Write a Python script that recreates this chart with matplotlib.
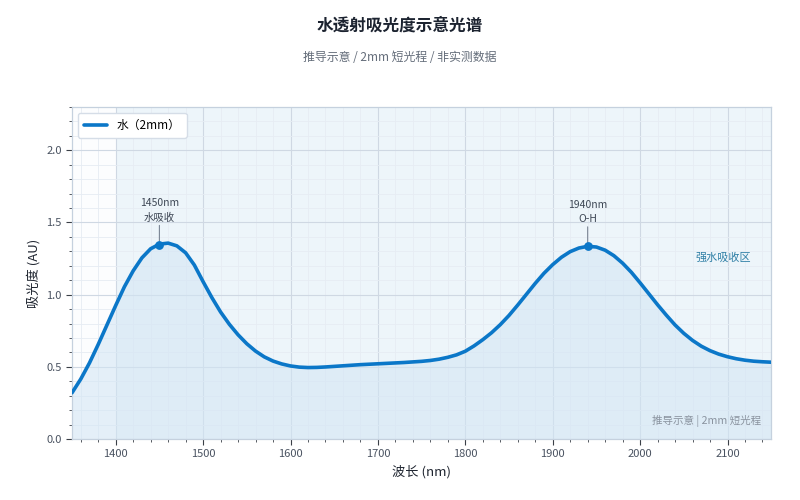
import matplotlib
matplotlib.use("Agg")
import matplotlib.pyplot as plt
from matplotlib.ticker import MultipleLocator

plt.rcParams['font.family'] = ['Noto Sans CJK SC', 'DejaVu Sans']

wavelength = list(range(1350, 2151, 10))
absorbance = [
    0.32, 0.415, 0.527, 0.655, 0.79, 0.925, 1.055, 1.165, 1.255, 1.318,
    1.35, 1.357, 1.338, 1.29, 1.205, 1.09, 0.98, 0.88, 0.795, 0.722,
    0.66, 0.609, 0.569, 0.54, 0.52, 0.506, 0.498, 0.495, 0.496, 0.499,
    0.503, 0.507, 0.511, 0.515, 0.518, 0.521, 0.524, 0.527, 0.530, 0.534,
    0.538, 0.544, 0.553, 0.566, 0.583, 0.608, 0.645, 0.688, 0.736, 0.792,
    0.856, 0.928, 1.003, 1.078, 1.148, 1.208, 1.259, 1.298, 1.323, 1.335,
    1.33, 1.308, 1.27, 1.218, 1.155, 1.082, 1.006, 0.93, 0.858, 0.79,
    0.732, 0.683, 0.643, 0.612, 0.588, 0.570, 0.556, 0.546, 0.539, 0.535,
    0.532,
]
peak_x = [1450, 1940]
peak_y = [1.345, 1.335]
peak_labels = ["1450nm\n水吸收", "1940nm\nO-H"]
region = [1400, 2150]
region_label = "强水吸收区"
series_label = "水（2mm）"
title = "水透射吸光度示意光谱"
subtitle = "推导示意 / 2mm 短光程 / 非实测数据"
note = "推导示意 | 2mm 短光程"

line_color = "#0b77c8"

fig = plt.figure(figsize=(8, 5), dpi=100)
ax = fig.add_axes([0.09, 0.122, 0.874, 0.664])
ax.set_facecolor("#fcfdfe")

ax.axvspan(region[0], region[1], color="#e8f3f9", alpha=0.75, lw=0, zorder=0)
ax.fill_between(wavelength, absorbance, 0, color="#d2e5f4", alpha=0.55, lw=0, zorder=1)
ax.plot(wavelength, absorbance, color=line_color, lw=2.6, label=series_label,
        zorder=3, solid_joinstyle="round", solid_capstyle="round")
ax.scatter(peak_x, peak_y, s=28, color=line_color, zorder=4)

for px, py, lab in zip(peak_x, peak_y, peak_labels):
    ax.annotate(lab, xy=(px, py), xytext=(0, 16), textcoords="offset points",
                ha="center", va="bottom", fontsize=7.5, color="#3d4654",
                linespacing=1.5,
                arrowprops=dict(arrowstyle="-", color="#7a8594", lw=0.8,
                                shrinkA=0, shrinkB=2))

ax.text(2095, 1.26, region_label, ha="center", va="center", fontsize=8, color="#2f7fa6")
ax.text(0.985, 0.055, note, transform=ax.transAxes, ha="right", va="center",
        fontsize=7.6, color="#8a939f")

ax.set_xlim(1350, 2150)
ax.set_ylim(0, 2.3)
ax.xaxis.set_major_locator(MultipleLocator(100))
ax.xaxis.set_minor_locator(MultipleLocator(20))
ax.yaxis.set_major_locator(MultipleLocator(0.5))
ax.yaxis.set_minor_locator(MultipleLocator(0.1))
ax.grid(which="major", color="#cfd8e3", lw=0.8, zorder=0)
ax.grid(which="minor", color="#e6ecf3", lw=0.6, zorder=0)
ax.set_axisbelow(True)

for s in ax.spines.values():
    s.set_color("#c5d1de")
    s.set_linewidth(0.9)
ax.tick_params(which="both", colors="#4a5361", labelsize=8)
ax.tick_params(which="major", length=4, color="#3a3f47")
ax.tick_params(which="minor", length=2.5, color="#3a3f47")

ax.set_xlabel("波长 (nm)", fontsize=9.5, color="#1f2530")
ax.set_ylabel("吸光度 (AU)", fontsize=9.5, color="#1f2530")

leg = ax.legend(loc="upper left", fontsize=8.5, frameon=True, fancybox=True,
                handlelength=2.0, borderpad=0.5)
leg.get_frame().set_edgecolor("#d5dde7")
leg.get_frame().set_facecolor("white")
leg.get_frame().set_alpha(1)

fig.text(0.5, 0.948, title, ha="center", va="center", fontsize=12,
         fontweight="bold", color="#1c2330")
fig.text(0.5, 0.885, subtitle, ha="center", va="center", fontsize=8.6, color="#646d7a")

fig.savefig("out.png", dpi=100)
